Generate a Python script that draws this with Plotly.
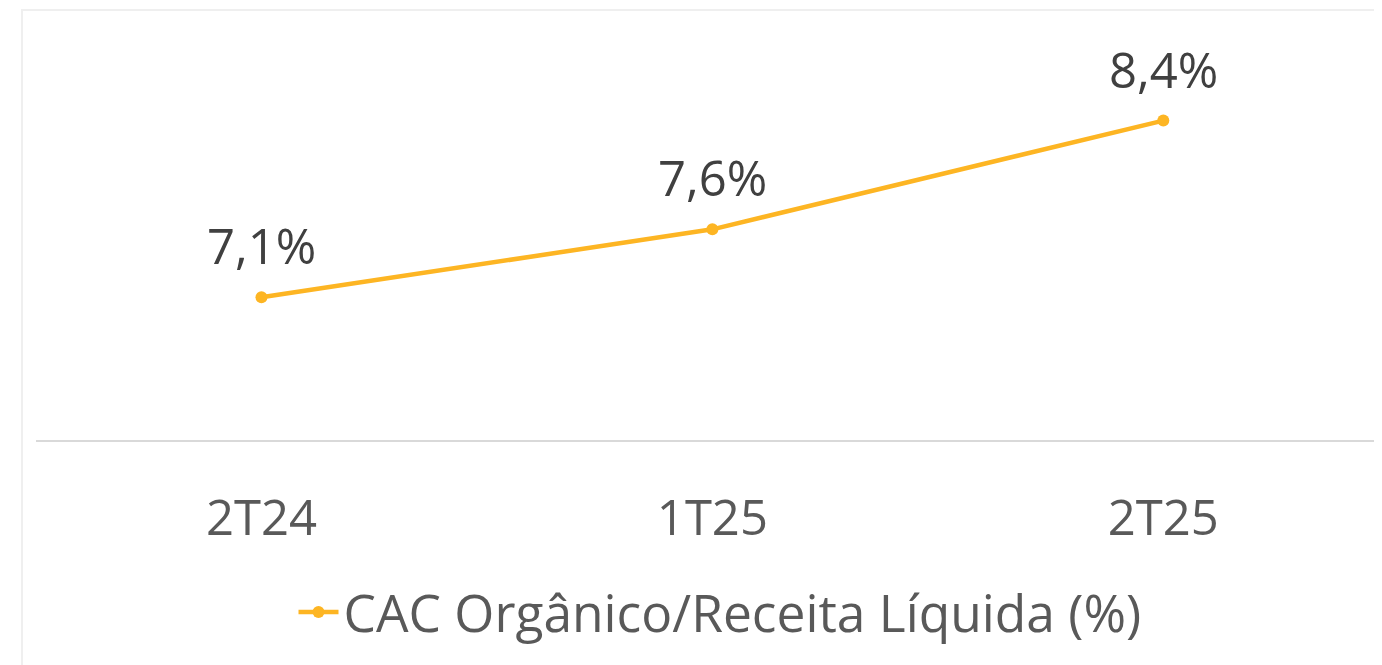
import plotly.graph_objects as go

categories = ["2T24", "1T25", "2T25"]
values = [7.1, 7.6, 8.4]
labels = ["7,1%", "7,6%", "8,4%"]
series_name = "CAC Orgânico/Receita Líquida (%)"

LINE_COLOR = "#FDB523"
FONT = "Open Sans"

# page body has an 8px margin in the browser, so the figure is 8px smaller
W, H = 1374, 657
ml, mr, mt, mb = 28, 0, 12, 225
pw = W - ml - mr
ph = H - mt - mb

fig = go.Figure()
fig.add_trace(go.Scatter(
    x=categories, y=values, name=series_name,
    mode="lines+markers",
    line=dict(color=LINE_COLOR, width=4.5),
    marker=dict(color=LINE_COLOR, size=12),
    cliponaxis=False,
))

annotations = [
    dict(x=c, y=v, text=t, xref="x", yref="y", showarrow=False,
         yanchor="middle", yshift=52,
         font=dict(family=FONT, size=49, color="#404040"))
    for c, v, t in zip(categories, values, labels)
]

fig.update_layout(
    width=W, height=H,
    margin=dict(l=ml, r=mr, t=mt, b=mb, pad=0),
    paper_bgcolor="white", plot_bgcolor="white",
    font=dict(family=FONT, color="#595959"),
    showlegend=True,
    legend=dict(
        orientation="h", x=(712 - ml) / pw, xanchor="center",
        y=(432 - 604) / ph, yanchor="middle",
        font=dict(family=FONT, size=51.5, color="#595959"),
        itemwidth=40, bgcolor="rgba(0,0,0,0)",
    ),
    xaxis=dict(
        type="category", range=[-0.5, 2.485],
        showgrid=False, zeroline=False,
        showline=True, linecolor="#D9D9D9", linewidth=2,
        ticks="", ticklabelstandoff=34,
        tickfont=dict(family=FONT, size=49, color="#595959"),
    ),
    yaxis=dict(
        range=[6.05, 9.14], visible=False, showgrid=False, zeroline=False,
    ),
    annotations=annotations,
    shapes=[dict(
        type="rect", xref="paper", yref="paper",
        x0=(14 - ml) / pw, x1=1.2, y0=-2, y1=1 + 10 / ph,
        line=dict(color="#EFEFEF", width=2), fillcolor="rgba(0,0,0,0)",
        layer="below",
    )],
)

fig.write_html("out.html")
